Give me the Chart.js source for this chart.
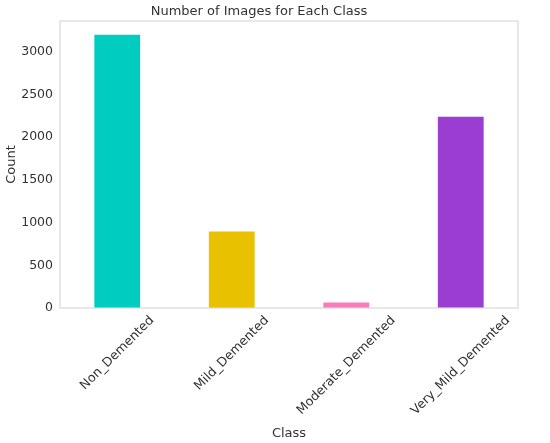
<!DOCTYPE html>
<html>
<head>
<meta charset="utf-8">
<script src="https://cdn.jsdelivr.net/npm/chart.js@4.4.0/dist/chart.umd.min.js"></script>
<style>
  html, body { margin: 0; padding: 0; background: #fff; }
  #wrap { width: 550px; height: 443px; }
</style>
</head>
<body>
<div id="wrap"><canvas id="c"></canvas></div>
<script>
const classes = ["Non_Demented", "Mild_Demented", "Moderate_Demented", "Very_Mild_Demented"];
const counts = [3200, 896, 64, 2240];
const barColors = ["#00CCBF", "#E8C100", "#F57DBB", "#9A3DD0"];
const yTicks = [0, 500, 1000, 1500, 2000, 2500, 3000];

const FONT = "'DejaVu Sans', sans-serif";
const TXT = "#333333";

// matplotlib-style frame and centred 45° tick labels
const framePlugin = {
    id: "frame",
    afterDraw(chart) {
        const ctx = chart.ctx;
        const a = chart.chartArea;
        ctx.save();
        ctx.strokeStyle = "#d9d9d9";
        ctx.lineWidth = 1.2;
        ctx.strokeRect(a.left, a.top, a.right - a.left, a.bottom - a.top);

        const xs = chart.scales.x;
        ctx.font = "12.7px " + FONT;
        ctx.fillStyle = TXT;
        ctx.textAlign = "center";
        ctx.textBaseline = "middle";
        const h = 12.7;
        xs.ticks.forEach((t, i) => {
            const label = classes[i];
            const w = ctx.measureText(label).width;
            const box = (w + h) * Math.SQRT1_2;
            const px = xs.getPixelForTick(i);
            const py = a.bottom + 6 + box / 2;
            ctx.save();
            ctx.translate(px, py);
            ctx.rotate(-Math.PI / 4);
            ctx.fillText(label, 0, 0);
            ctx.restore();
        });
        ctx.restore();
    }
};

new Chart(document.getElementById("c"), {
    type: "bar",
    data: {
        labels: classes,
        datasets: [{
            data: counts,
            backgroundColor: barColors,
            borderWidth: 0,
            barPercentage: 0.4,
            categoryPercentage: 1.0
        }]
    },
    options: {
        responsive: true,
        maintainAspectRatio: false,
        animation: false,
        layout: { padding: { left: 0, right: 32, top: 0, bottom: 0 } },
        plugins: {
            legend: { display: false },
            tooltip: { enabled: false },
            title: {
                display: true,
                text: "Number of Images for Each Class",
                color: TXT,
                font: { family: FONT, size: 13, weight: "normal" },
                padding: { top: 4, bottom: 1.4 }
            }
        },
        scales: {
            x: {
                grid: { display: false, drawTicks: false },
                border: { display: false },
                ticks: { display: false },
                title: {
                    display: true,
                    text: "Class",
                    color: TXT,
                    font: { family: FONT, size: 13 },
                    padding: { top: 0, bottom: 2 }
                },
                afterFit(s) { s.height = 135; }
            },
            y: {
                min: 0,
                max: 3360,
                grid: { display: false, drawTicks: false },
                border: { display: false },
                afterBuildTicks(s) { s.ticks = yTicks.map(v => ({ value: v })); },
                ticks: {
                    color: TXT,
                    font: { family: FONT, size: 12.5 },
                    padding: 7,
                    callback: v => String(v)
                },
                title: {
                    display: true,
                    text: "Count",
                    color: TXT,
                    font: { family: FONT, size: 13 },
                    padding: { top: 4, bottom: 0 }
                },
                afterFit(s) { s.width = 60; }
            }
        }
    },
    plugins: [framePlugin]
});
</script>
</body>
</html>
